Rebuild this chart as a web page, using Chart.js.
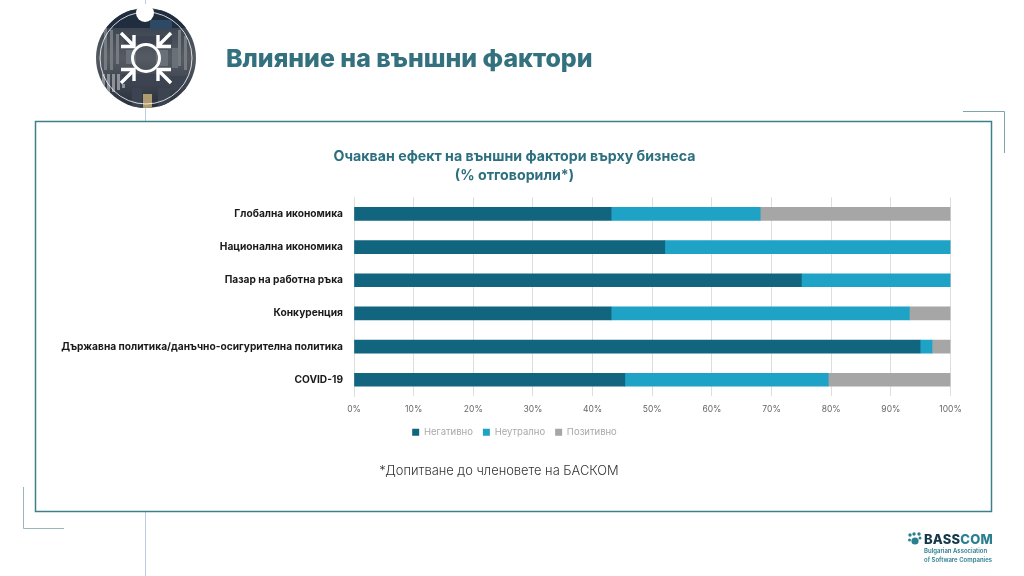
<!DOCTYPE html>
<html lang="bg"><head><meta charset="utf-8">
<script src="https://cdn.jsdelivr.net/npm/chart.js@4/dist/chart.umd.min.js"></script>
<style>
html,body{margin:0;padding:0;background:#fff;width:1024px;height:576px;overflow:hidden}
#wrap{position:relative;width:1024px;height:576px}
canvas#c{position:absolute;left:0;top:0}
svg#deco{position:absolute;left:0;top:0}
.t{position:absolute;white-space:nowrap;font-family:Inter,"Noto Sans",sans-serif}
#head{left:226px;top:43px;font-size:24.9px;font-weight:800;color:#33717f}
#note{left:284px;width:430px;text-align:center;top:463px;font-size:12.9px;font-weight:300;color:#333}
#b1{left:924px;top:531px;font-size:13px;font-weight:800;color:#14384a;letter-spacing:.2px}
#b1 span{color:#2c7f8f}
#b2{left:924px;top:547px;font-size:6px;line-height:8.5px;font-weight:600;color:#2c7f8f;text-align:left}
</style></head><body><div id="wrap">
<svg id="deco" width="1024" height="576">
<defs><clipPath id="disc"><circle cx="146" cy="58" r="50"/></clipPath>
<linearGradient id="g" x1="0" y1="0" x2="0" y2="1"><stop offset="0" stop-color="#2b3847"/><stop offset=".5" stop-color="#565b63"/><stop offset="1" stop-color="#262f3c"/></linearGradient></defs>
<g stroke="#bccbde" stroke-width="1"><line x1="145.5" y1="0" x2="145.5" y2="121"/><line x1="145.5" y1="511" x2="145.5" y2="576"/></g>
<circle cx="146" cy="58" r="50" fill="url(#g)"/>
<g clip-path="url(#disc)">
<rect x="96" y="10" width="100" height="18" fill="#1f2d3e"/><rect x="150" y="20" width="22" height="9" fill="#2c4a66"/>
<g fill="#767b81"><rect x="104" y="24" width="3" height="46"/><rect x="110" y="30" width="3" height="40"/><rect x="116" y="34" width="3" height="30"/><rect x="178" y="30" width="3" height="36"/><rect x="184" y="36" width="3" height="34"/></g>
<g fill="#8d9298"><rect x="102" y="74" width="3" height="18"/><rect x="107" y="74" width="3" height="18"/><rect x="112" y="74" width="3" height="18"/><rect x="117" y="74" width="3" height="16"/><rect x="122" y="74" width="3" height="14"/></g>
<g fill="#3b4450"><rect x="124" y="36" width="48" height="8"/><rect x="122" y="74" width="44" height="10"/><rect x="170" y="76" width="16" height="14"/><rect x="132" y="88" width="10" height="20"/><rect x="158" y="88" width="12" height="20"/></g>
<g fill="#6a7078"><rect x="126" y="50" width="10" height="14"/><rect x="156" y="50" width="12" height="16"/><rect x="172" y="48" width="6" height="20"/></g>
<rect x="143" y="94" width="9" height="14" fill="#b09a70"/>
</g>
<circle cx="145" cy="13" r="9" fill="#fff"/>
<circle cx="146" cy="58" r="46" fill="none" stroke="#fff" stroke-width=".8"/>
<circle cx="146" cy="58" r="13.5" fill="none" stroke="#fff" stroke-width="3"/>
<g stroke="#fff" stroke-width="3.4" fill="none">
<path d="M121 33l13 13M134 35v11.500h-13"/><path d="M171 33l-13 13M158 35v11.500h13"/><path d="M121 83l13-13M134 81v-11.500h-13"/><path d="M171 83l-13-13M158 81v-11.500h13"/>
</g>
<rect x="35.500" y="121.500" width="956" height="390" fill="none" stroke="#3f7f8a" stroke-width="1.500"/>
<path d="M963 111.500H1004.500V153" fill="none" stroke="#7fa4ac" stroke-width="1"/>
<path d="M23.500 487V528.500H64" fill="none" stroke="#9db5ba" stroke-width="1"/>
<g fill="#2c7f8f"><circle cx="915" cy="541" r="3.600"/><circle cx="910" cy="535" r="1.700"/><circle cx="914" cy="534" r="1.700"/><circle cx="919" cy="534" r="1.700"/><circle cx="909.500" cy="540" r="1.500"/><circle cx="920" cy="538" r="1.500"/></g>
</svg>
<canvas id="c" width="1024" height="576"></canvas>
<div class="t" id="head">Влияние на външни фактори</div>
<div class="t" id="note">*Допитване до членовете на БАСКОМ</div>
<div class="t" id="b1">BASS<span>COM</span></div>
<div class="t" id="b2">Bulgarian Association<br>of Software Companies</div>
</div>
<script>
const categories=["Глобална икономика","Национална икономика","Пазар на работна ръка","Конкуренция","Държавна политика/данъчно-осигурителна политика","COVID-19"];
const negative=[43.1,52.1,75,43.1,94.9,45.4];
const neutral=[25,47.9,25,50,2,34.1];
const positive=[31.9,0,0,6.9,3.1,20.5];
const seriesNames=["Негативно","Неутрално","Позитивно"];
const titleLines=["Очакван ефект на външни фактори върху бизнеса","(% отговорили*)"];
const font="Inter, 'Noto Sans', sans-serif";
new Chart(document.getElementById('c'),{
 type:'bar',
 data:{labels:categories,datasets:[
  {label:seriesNames[0],data:negative,backgroundColor:'#12657f'},
  {label:seriesNames[1],data:neutral,backgroundColor:'#1ea2c6'},
  {label:seriesNames[2],data:positive,backgroundColor:'#a6a6a6'}]},
 options:{indexAxis:'y',responsive:false,animation:false,devicePixelRatio:1,
  barThickness:13,
  layout:{padding:{top:147,right:0,left:5,bottom:129}},
  plugins:{
   title:{display:true,text:titleLines,color:'#2c6f7f',font:{family:font,size:14.2,weight:'700',lineHeight:1.35},padding:{top:0,bottom:12},position:'top'},
   legend:{position:'bottom',labels:{boxWidth:7,boxHeight:7,padding:10,color:'#a9a9a9',font:{family:font,size:9.5}}},
   tooltip:{enabled:false}},
  scales:{
   x:{stacked:true,min:0,max:100,afterFit(s){s.height-=5},ticks:{stepSize:10,padding:8,color:'#666',font:{family:font,size:8.5},callback:v=>v+'%',maxRotation:0},grid:{color:'#dedede',drawTicks:false},border:{display:false}},
   y:{stacked:true,afterFit(s){s.width=349},ticks:{color:'#1a1a1a',padding:11,font:{family:font,size:10.2,weight:'700'}},grid:{display:false,drawTicks:false},border:{color:'#dedede'}},
   yRight:{axis:'y',type:'category',labels:categories,position:'right',afterFit(s){s.width=73.5},ticks:{display:false},grid:{display:false,drawTicks:false},border:{display:false}}
  }}
});
</script></body></html>
